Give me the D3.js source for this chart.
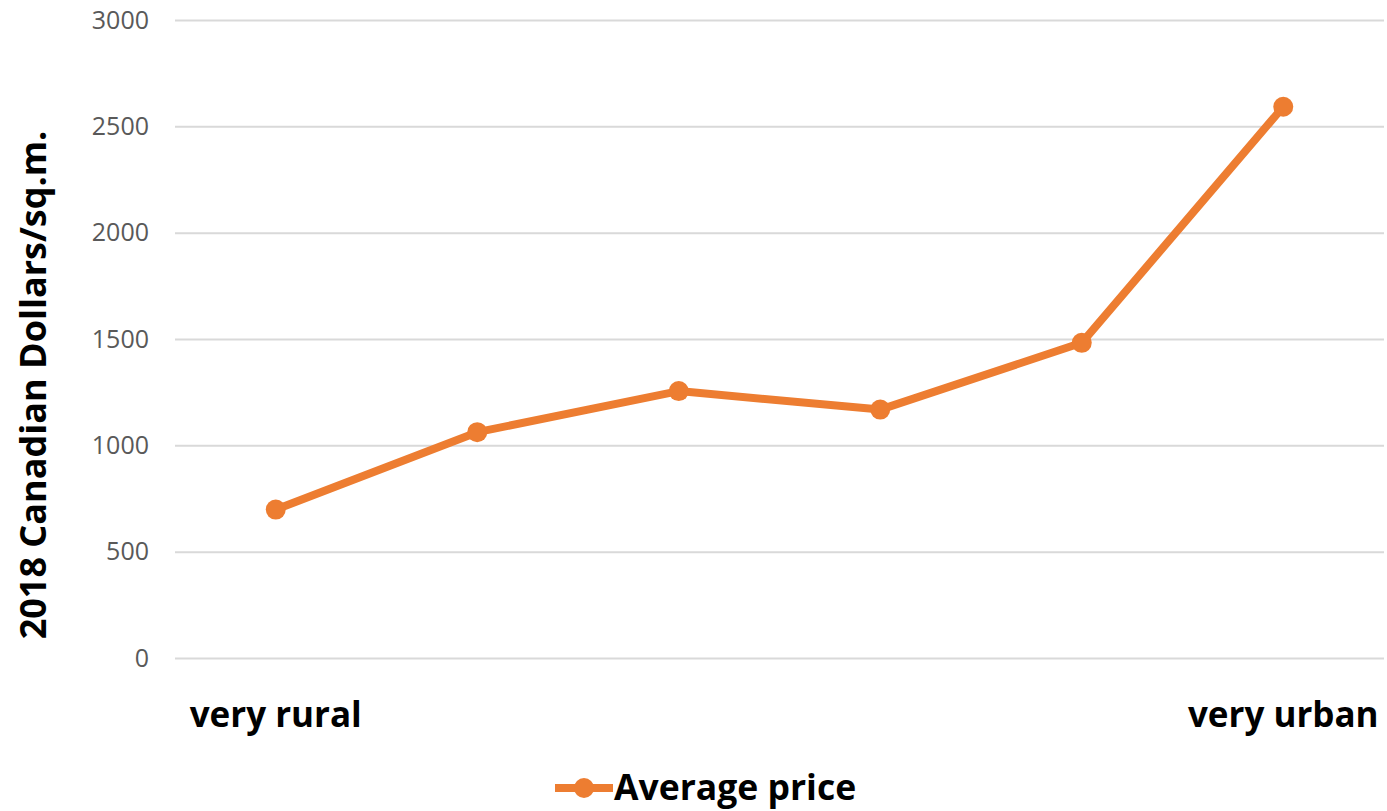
<!DOCTYPE html>
<html>
<head>
<meta charset="utf-8">
<script src="https://cdn.jsdelivr.net/npm/d3@7"></script>
<style>
  body { margin: 0; background: #fff; }
  svg { display: block; font-family: "Open Sans", sans-serif; }
</style>
</head>
<body>
<svg id="chart" width="1387" height="811"></svg>
<script>
// data
var categories = ["very rural", "c2", "c3", "c4", "c5", "very urban"];
var shownLabels = ["very rural", "very urban"];
var avgPrice = [698, 1062, 1255, 1168, 1482, 2592];
var yTicks = [0, 500, 1000, 1500, 2000, 2500, 3000];

var svg = d3.select("#chart");
var margin = { top: 20, right: 3, bottom: 153, left: 175 };
var width = 1387 - margin.left - margin.right;
var height = 811 - margin.top - margin.bottom;

var g = svg.append("g").attr("transform", `translate(${margin.left}, ${margin.top})`);

var xScale = d3.scaleBand().domain(categories).range([0, width]);
var yScale = d3.scaleLinear().domain([0, 3000]).range([height, 0]);

//Gridlines + y labels
var yAxis = g.append("g")
  .call(d3.axisLeft(yScale).tickValues(yTicks).tickFormat(d3.format("d")).tickSize(-width).tickPadding(26));
yAxis.select(".domain").remove();
yAxis.selectAll(".tick line").attr("stroke", "#d9d9d9").attr("stroke-width", 2);
yAxis.selectAll(".tick text")
  .attr("fill", "#595959")
  .style("font-family", "'Open Sans', sans-serif")
  .style("font-size", "25px");

//x labels (only the ends)
var xAxis = g.append("g")
  .attr("transform", `translate(0,${height})`)
  .call(d3.axisBottom(xScale).tickSize(0).tickPadding(44)
    .tickFormat(d => shownLabels.indexOf(d) >= 0 ? d : ""));
xAxis.select(".domain").remove();
xAxis.selectAll(".tick text")
  .attr("fill", "#000")
  .style("font-family", "'Open Sans', sans-serif")
  .style("font-weight", "bold")
  .style("font-size", "35px");

var color = "#ED7D31";
var line = d3.line()
  .x((d, i) => xScale(categories[i]) + xScale.bandwidth() / 2)
  .y(d => yScale(d));

g.append("path")
  .datum(avgPrice)
  .attr("fill", "none")
  .attr("stroke", color)
  .attr("stroke-width", 8)
  .attr("stroke-linejoin", "round")
  .attr("d", line);

g.selectAll("circle.pt")
  .data(avgPrice)
  .enter()
  .append("circle")
  .attr("class", "pt")
  .attr("cx", (d, i) => xScale(categories[i]) + xScale.bandwidth() / 2)
  .attr("cy", d => yScale(d))
  .attr("r", 10)
  .attr("fill", color);

//Axis title
svg.append("text")
  .attr("transform", "rotate(-90)")
  .attr("x", -385)
  .attr("y", 46)
  .attr("text-anchor", "middle")
  .style("font-weight", "bold")
  .style("font-size", "36px")
  .attr("fill", "#000")
  .text("2018 Canadian Dollars/sq.m.");

//Legend
var legend = svg.append("g").attr("transform", "translate(555, 788)");
legend.append("line")
  .attr("x1", 0).attr("x2", 58)
  .attr("stroke", color).attr("stroke-width", 8);
legend.append("circle").attr("cx", 29).attr("r", 10).attr("fill", color);
legend.append("text")
  .attr("x", 59)
  .attr("y", 12)
  .style("font-weight", "bold")
  .style("font-size", "35.5px")
  .attr("fill", "#000")
  .text("Average price");
</script>
</body>
</html>
